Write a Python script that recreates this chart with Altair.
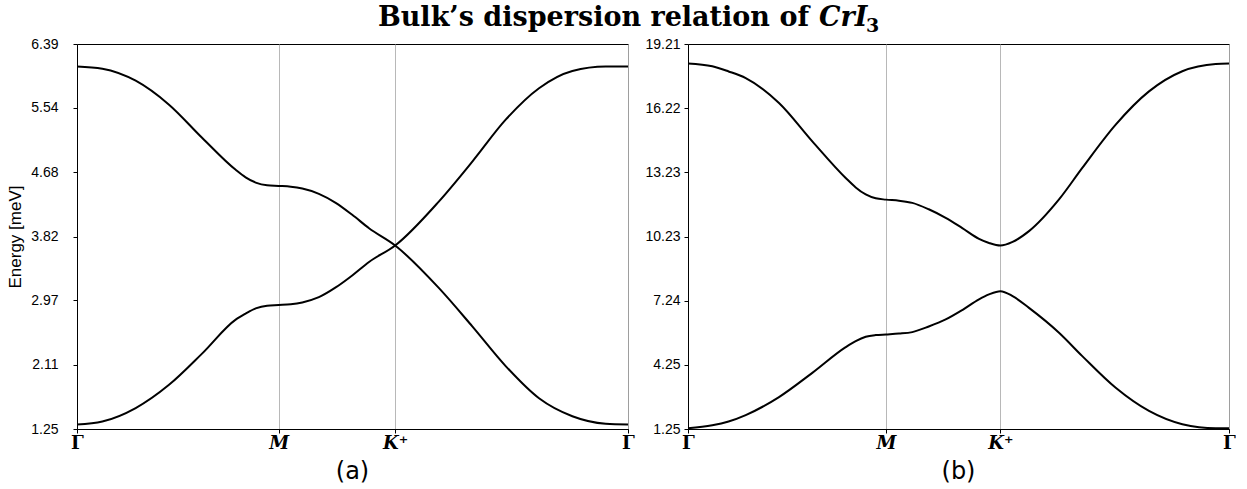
import altair as alt
import pandas as pd

# Path coordinate along Γ–M–K⁺–Γ, normalised so the whole path has length 1
K_TICKS = [0.0, 0.36603, 0.57735, 1.0]
K_LABELS = ["Γ", "M", "K⁺", "Γ"]

# Panel (a): the two magnon branches cross at K⁺
k_a = [0.0, 0.046, 0.1065, 0.167, 0.2274, 0.288, 0.306, 0.3243, 0.345, 0.3660,
       0.388, 0.4089, 0.439, 0.4695, 0.4995, 0.530, 0.5774, 0.657,
       0.7174, 0.778, 0.8385, 0.899, 0.9595, 1.0]
band1_a = [6.09, 6.06, 5.90, 5.58, 5.135, 4.71, 4.61, 4.54, 4.503, 4.495,
           4.485, 4.46, 4.39, 4.27, 4.11, 3.93, 3.70, 3.13,
           2.62, 2.09, 1.66, 1.42, 1.32, 1.31]
band2_a = [1.31, 1.35, 1.53, 1.84, 2.26, 2.71, 2.79, 2.86, 2.897, 2.905,
           2.915, 2.94, 3.01, 3.14, 3.30, 3.48, 3.70, 4.29,
           4.82, 5.38, 5.80, 6.03, 6.09, 6.09]
yticks_a = [1.25, 2.11, 2.97, 3.82, 4.68, 5.54, 6.39]

# Panel (b): a gap opens at K⁺
k_b = [0.0, 0.0449, 0.075, 0.1067, 0.1682, 0.2298, 0.2915, 0.310, 0.3285, 0.347, 0.3660,
       0.390, 0.4146, 0.445, 0.4763, 0.507, 0.5379, 0.5564, 0.5774, 0.600, 0.6303,
       0.6858, 0.7288, 0.7906, 0.8521, 0.9137, 0.9754, 1.0]
upper_b = [18.30, 18.17, 17.93, 17.62, 16.46, 14.67, 12.96, 12.52, 12.19, 12.01, 11.95,
           11.90, 11.80, 11.50, 11.10, 10.62, 10.12, 9.93, 9.81, 9.98, 10.48,
           11.96, 13.43, 15.45, 17.00, 17.94, 18.28, 18.30]
lower_b = [1.28, 1.42, 1.60, 1.90, 2.74, 3.87, 5.07, 5.35, 5.55, 5.63, 5.66,
           5.70, 5.77, 6.03, 6.36, 6.80, 7.30, 7.53, 7.68, 7.45, 6.90,
           5.74, 4.65, 3.17, 2.09, 1.47, 1.28, 1.28]
yticks_b = [1.25, 4.25, 7.24, 10.23, 13.23, 16.22, 19.21]

TITLE_MAIN = "Bulk’s dispersion relation of"
TITLE_MATH = "CrI"
TITLE_SUB = "3"
PANEL_TAGS = ["(a)", "(b)"]
Y_TITLE = "Energy [meV]"

H = 385
W_A, W_B = 551, 541

label_expr = " : ".join(
    f"abs(datum.value - {v}) < 0.001 ? '{lab}'" for v, lab in zip(K_TICKS, K_LABELS)
) + " : ''"

x_axis = alt.Axis(
    values=K_TICKS,
    labelExpr=label_expr,
    labelFont="DejaVu Serif",
    labelFontWeight="bold",
    labelFontSize=18,
    labelFontStyle={"condition": {"test": "datum.value > 0.1 && datum.value < 0.9",
                                  "value": "italic"}, "value": "normal"},
    labelFlush=False,
    labelOverlap=False,
    labelPadding=1,
    tickSize=4,
    grid=True,
    gridColor="#b0b0b0",
    gridWidth=0.9,
    title="",
)


def band_frame(k, bands):
    rows = []
    for name, vals in bands.items():
        rows += [{"k": kk, "E": e, "band": name} for kk, e in zip(k, vals)]
    return pd.DataFrame(rows)


def panel(k, bands, yticks, width, tag, ytitle, label_pad, extra=()):
    df = band_frame(k, bands)
    y_axis = alt.Axis(
        values=yticks,
        format=".2f",
        labelFont="Liberation Sans",
        labelFontSize=14,
        labelOverlap=False,
        labelPadding=label_pad,
        tickSize=4,
        grid=False,
        title=ytitle,
        titleFont="Liberation Sans",
        titleFontSize=17,
        titleFontWeight="normal",
        titlePadding=6,
    )
    lines = alt.Chart(df).mark_line(
        interpolate="monotone", color="black", strokeWidth=2
    ).encode(
        x=alt.X("k:Q", scale=alt.Scale(domain=[0, 1], nice=False, zero=False), axis=x_axis),
        y=alt.Y("E:Q", scale=alt.Scale(domain=[yticks[0], yticks[-1]], nice=False, zero=False),
                axis=y_axis),
        detail="band:N",
    )
    tag_text = alt.Chart(pd.DataFrame({"t": [tag]})).mark_text(
        font="DejaVu Sans", fontSize=24, align="center", baseline="alphabetic", color="black"
    ).encode(x=alt.value(width / 2), y=alt.value(H + 50), text="t:N")
    return alt.layer(lines, tag_text, *extra).properties(width=width, height=H)


# Figure title, laid out in three runs so the chemical formula can be set in math style
title_main = alt.Chart(pd.DataFrame({"t": [TITLE_MAIN]})).mark_text(
    font="DejaVu Serif", fontSize=27, fontWeight="bold", align="right",
    baseline="alphabetic", color="black"
).encode(x=alt.value(732), y=alt.value(-18), text="t:N")
title_math = alt.Chart(pd.DataFrame({"t": [TITLE_MATH]})).mark_text(
    font="DejaVu Serif", fontSize=27, fontWeight="bold", fontStyle="italic", align="left",
    baseline="alphabetic", color="black"
).encode(x=alt.value(742), y=alt.value(-18), text="t:N")
title_sub = alt.Chart(pd.DataFrame({"t": [TITLE_SUB]})).mark_text(
    font="DejaVu Serif", fontSize=19, fontWeight="bold", align="left",
    baseline="alphabetic", color="black"
).encode(x=alt.value(789), y=alt.value(-12), text="t:N")

left = panel(k_a, {"b1": band1_a, "b2": band2_a}, yticks_a, W_A, PANEL_TAGS[0], Y_TITLE, 15,
             extra=(title_main, title_math, title_sub))
right = panel(k_b, {"upper": upper_b, "lower": lower_b}, yticks_b, W_B, PANEL_TAGS[1], "", 4)

chart = alt.hconcat(left, right, spacing=60, bounds="flush").properties(
    padding={"left": 6, "top": 3, "right": 0, "bottom": 0},
    background="white",
).configure_view(
    stroke="black", strokeWidth=1
).configure_axis(
    domainColor="black", tickColor="black", labelColor="black", titleColor="black",
    domainWidth=1, tickWidth=1,
)

chart.save("out.html", embed_options={"renderer": "svg", "actions": False})
